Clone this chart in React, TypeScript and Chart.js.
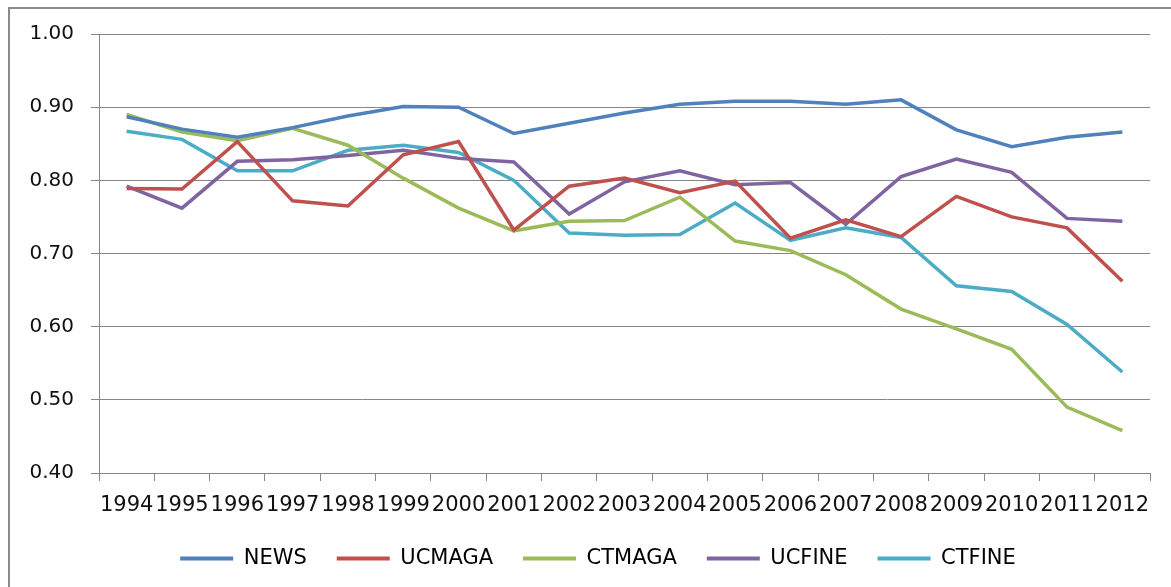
import React, { useEffect, useRef } from "react";
import { Chart, registerables } from "chart.js";

Chart.register(...registerables);

const years = ["1994","1995","1996","1997","1998","1999","2000","2001","2002","2003","2004","2005","2006","2007","2008","2009","2010","2011","2012"];
const news = [0.887,0.870,0.859,0.872,0.888,0.901,0.900,0.864,0.878,0.892,0.904,0.908,0.908,0.904,0.910,0.869,0.846,0.859,0.866];
const ucmaga = [0.789,0.788,0.853,0.772,0.765,0.835,0.853,0.732,0.792,0.803,0.783,0.799,0.721,0.746,0.723,0.778,0.750,0.735,0.662];
const ctmaga = [0.890,0.866,0.854,0.871,0.848,0.803,0.762,0.731,0.744,0.745,0.777,0.717,0.704,0.671,0.624,0.597,0.569,0.490,0.458];
const ucfine = [0.792,0.762,0.826,0.828,0.834,0.841,0.830,0.825,0.754,0.798,0.813,0.794,0.797,0.740,0.805,0.829,0.811,0.748,0.744];
const ctfine = [0.867,0.856,0.813,0.813,0.841,0.848,0.838,0.800,0.728,0.725,0.726,0.769,0.718,0.735,0.722,0.656,0.648,0.603,0.538];

const seriesNames = ["NEWS", "UCMAGA", "CTMAGA", "UCFINE", "CTFINE"];
const seriesColors = ["#4F81BD", "#C0504D", "#9BBB59", "#8064A2", "#4BACC6"];

const framePlugin = {
  id: "frame",
  afterLayout(chart: any) {
    if (chart.legend) chart.legend.left += 46;
  },
  beforeDraw(chart: any) {
    const ctx = chart.ctx;
    ctx.save();
    ctx.fillStyle = "#ffffff";
    ctx.fillRect(0, 0, chart.width, chart.height);
    ctx.strokeStyle = "#8a8a8a";
    ctx.lineWidth = 2;
    ctx.beginPath();
    ctx.moveTo(9, chart.height);
    ctx.lineTo(9, 8);
    ctx.lineTo(chart.width, 8);
    ctx.stroke();
    ctx.restore();
  },
};

export default function App() {
  const ref = useRef<HTMLCanvasElement | null>(null);
  useEffect(() => {
    if (!ref.current) return;
    const all = [news, ucmaga, ctmaga, ucfine, ctfine];
    const chart = new Chart(ref.current, {
      type: "line",
      data: {
        labels: years,
        datasets: all.map((d, i) => ({
          label: seriesNames[i],
          data: d,
          borderColor: seriesColors[i],
          backgroundColor: seriesColors[i],
          borderWidth: 3.5,
          pointRadius: 0,
          tension: 0,
          fill: false,
        })),
      },
      options: {
        animation: false,
        responsive: false,
        maintainAspectRatio: false,
        layout: { padding: { left: 0, top: 34, right: 21, bottom: 8 } },
        plugins: {
          tooltip: { enabled: false },
          legend: {
            position: "bottom",
            labels: {
              boxWidth: 53,
              boxHeight: 4,
              padding: 30,
              color: "#111",
              font: { family: "DejaVu Sans", size: 21 },
              generateLabels: (c: any) =>
                c.data.datasets.map((ds: any, i: number) => ({
                  text: ds.label,
                  fillStyle: ds.borderColor,
                  strokeStyle: ds.borderColor,
                  lineWidth: 0,
                  hidden: false,
                  datasetIndex: i,
                })),
            },
          },
        },
        scales: {
          x: {
            offset: true,
            grid: { display: true, drawOnChartArea: false, drawTicks: true, tickLength: 8, color: "#868686", offset: true },
            border: { color: "#868686", width: 1 },
            ticks: { color: "#111", padding: 12, maxRotation: 0, autoSkip: false, font: { family: "DejaVu Sans", size: 21 } },
            afterFit: (s: any) => { s.height = 45; },
          },
          y: {
            min: 0.4,
            max: 1.0,
            ticks: {
              stepSize: 0.1,
              color: "#111",
              padding: 17,
              font: { family: "DejaVu Sans", size: 20 },
              callback: (v: any) => Number(v).toFixed(2),
            },
            grid: { color: "#868686", tickLength: 8 },
            border: { color: "#868686", width: 1 },
            afterFit: (s: any) => { s.width = 99; },
          },
        },
      },
      plugins: [framePlugin],
    });
    return () => chart.destroy();
  }, []);
  return (
    <div style={{ position: "fixed", left: 0, top: 0, width: 1171, height: 587, background: "#fff" }}>
      <canvas ref={ref} width={1171} height={587} style={{ width: 1171, height: 587, display: "block" }} />
    </div>
  );
}
